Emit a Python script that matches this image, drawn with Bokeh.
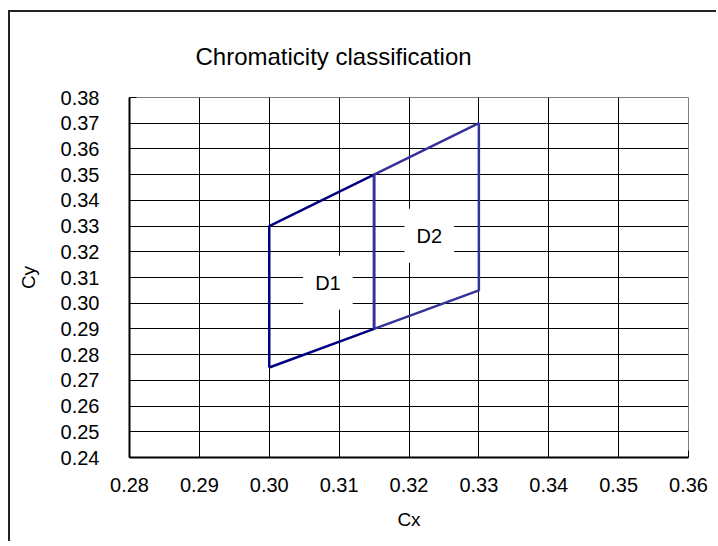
from bokeh.plotting import figure
from bokeh.models import Label, FixedTicker, Title
from bokeh.embed import file_html
from bokeh.resources import INLINE

# ---- data ----
title_text = "Chromaticity classification"
x_label = "Cx"
y_label = "Cy"

x_ticks = [0.28, 0.29, 0.30, 0.31, 0.32, 0.33, 0.34, 0.35, 0.36]
y_ticks = [0.24, 0.25, 0.26, 0.27, 0.28, 0.29, 0.30, 0.31, 0.32, 0.33,
           0.34, 0.35, 0.36, 0.37, 0.38]

d1_x = [0.300, 0.300, 0.315, 0.315, 0.300]
d1_y = [0.275, 0.330, 0.350, 0.290, 0.275]
d2_x = [0.315, 0.315, 0.330, 0.330, 0.315]
d2_y = [0.290, 0.350, 0.370, 0.305, 0.290]

region_names = ["D1", "D2"]
region_label_x = [0.3084, 0.3229]
region_label_y = [0.3080, 0.3262]

FONT = "Liberation Sans"

p = figure(
    output_backend="svg", toolbar_location=None,
    frame_width=559, frame_height=360,
    min_border_left=119, min_border_right=28,
    min_border_top=85, min_border_bottom=84,
    x_range=(0.28, 0.36), y_range=(0.24, 0.38),
    background_fill_color="white", border_fill_color="white",
)
p.styles = {"border-left": "2px solid #222222", "border-top": "2px solid #222222",
            "margin-top": "10px", "margin-left": "8px"}

p.title = Title(text=title_text, align="left", offset=66,
                text_font=FONT, text_font_size="24px", text_font_style="normal",
                text_color="black", standoff=55)

# grid
p.xaxis.ticker = FixedTicker(ticks=x_ticks)
p.yaxis.ticker = FixedTicker(ticks=y_ticks)
p.xaxis.major_label_overrides = {t: f"{t:.2f}" for t in x_ticks}
p.yaxis.major_label_overrides = {t: f"{t:.2f}" for t in y_ticks}
for g in (p.xgrid, p.ygrid):
    g.grid_line_color = "black"
    g.grid_line_width = 1
p.xaxis.minor_tick_line_color = None
p.yaxis.minor_tick_line_color = None

for ax in (p.xaxis, p.yaxis):
    ax.axis_line_color = "black"
    ax.axis_line_width = 2
    ax.major_tick_line_color = "black"
    ax.major_tick_in = 7
    ax.major_tick_out = 0
    ax.major_label_text_font = FONT
    ax.major_label_text_font_size = "20px"
    ax.major_label_text_color = "black"
    ax.axis_label_text_font = FONT
    ax.axis_label_text_font_size = "19px"
    ax.axis_label_text_font_style = "normal"
    ax.axis_label_text_color = "black"

p.xaxis.axis_label = x_label
p.yaxis.axis_label = y_label
p.xaxis.major_label_standoff = 20
p.yaxis.major_label_standoff = 30
p.xaxis.axis_label_standoff = 14
p.yaxis.axis_label_standoff = 19

p.outline_line_color = "#808080"
p.outline_line_width = 1

# regions
p.line(d1_x, d1_y, line_color="#000080", line_width=2.5)
p.line(d2_x, d2_y, line_color="#333399", line_width=2.5)

for name, lx, ly in zip(region_names, region_label_x, region_label_y):
    p.add_layout(Label(x=lx, y=ly, text=name, text_align="center",
                       text_baseline="middle", text_font=FONT,
                       text_font_size="20px", text_color="black",
                       background_fill_color="white", padding=(12, 16)))

open("out.html", "w").write(file_html(p, INLINE))
